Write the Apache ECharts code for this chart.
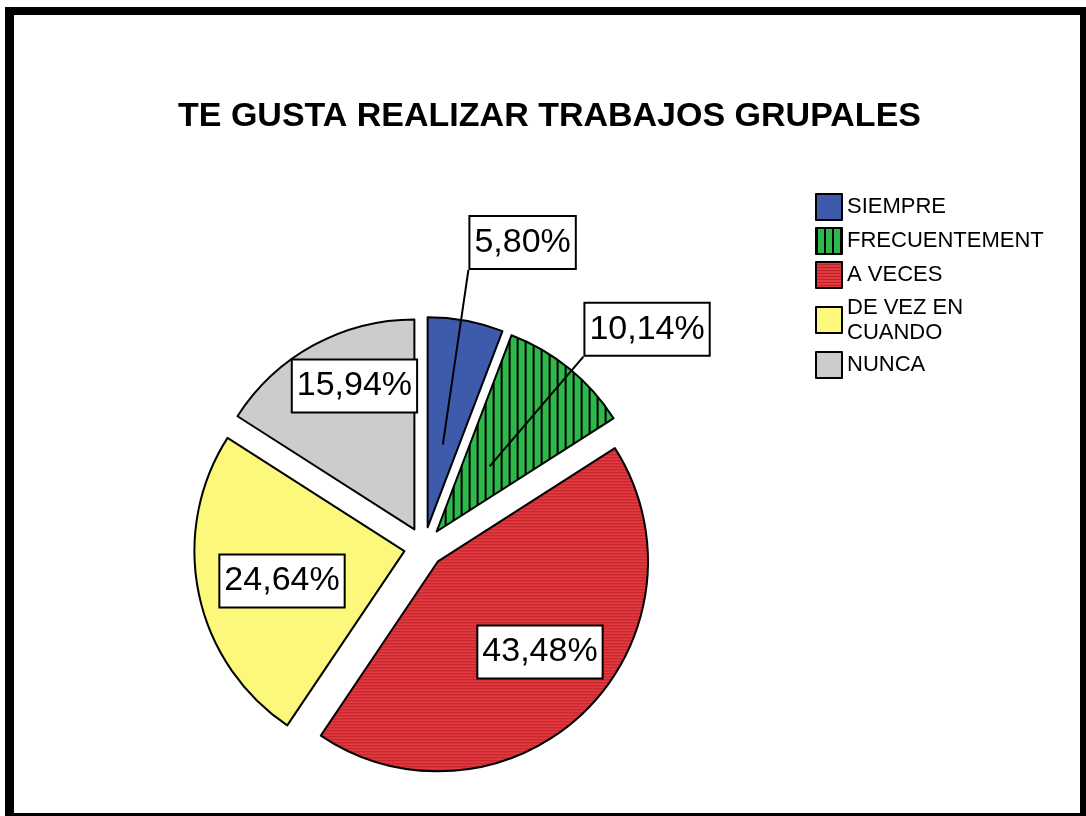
<!DOCTYPE html>
<html>
<head>
<meta charset="utf-8">
<script src="https://cdn.jsdelivr.net/npm/echarts@6/dist/echarts.min.js"></script>
<style>
html, body { margin: 0; padding: 0; background: #fff; }
#grafico { position: absolute; left: 0; top: 0; width: 1086px; height: 816px; }
.marco {
  position: absolute; left: 5px; top: 7px; width: 1081px; height: 809px;
  box-sizing: border-box; border-style: solid; border-color: #000;
  border-width: 8px 6px 3px 9px; pointer-events: none;
}
</style>
</head>
<body>
<div id="grafico"></div>
<div class="marco"></div>
<script>
// datos
var categorias = ["SIEMPRE", "FRECUENTEMENTE", "A VECES", "DE VEZ EN CUANDO", "NUNCA"];
var porcentajes = [5.80, 10.14, 43.48, 24.64, 15.94];

// tramas: verde con rayas verticales, rojo con rayas horizontales
function trama(ancho, alto, fondo, dibujar) {
  var c = document.createElement("canvas");
  c.width = ancho;
  c.height = alto;
  var ctx = c.getContext("2d");
  ctx.fillStyle = fondo;
  ctx.fillRect(0, 0, ancho, alto);
  dibujar(ctx);
  return { image: c, repeat: "repeat" };
}
var verde = trama(8, 8, "#2fb84a", function (ctx) {
  ctx.fillStyle = "#000";
  ctx.fillRect(0, 0, 2, 8);
});
var rojo = trama(4, 3, "#e5393f", function (ctx) {
  ctx.fillStyle = "#b9242b";
  ctx.fillRect(0, 2, 4, 1);
});
var colores = ["#3d5aab", verde, rojo, "#fbf87b", "#cccccc"];

var CX = 424, CY = 547, R = 210, OFF = 20;
var fuente = "'Liberation Sans', Arial, sans-serif";
// ubicacion de cada etiqueta: distancia (fraccion del radio) y giro (grados)
var distEtiqueta = [1.43, 1.39, 0.65, 0.6, 0.74];
var giroEtiqueta = [8, 7, -4, -2, 6];

var total = porcentajes.reduce(function (a, b) { return a + b; }, 0);
var acumulado = 0;
var medios = porcentajes.map(function (v) {
  var a0 = acumulado / total * 360;
  acumulado += v;
  return (a0 + acumulado / total * 360) / 2;
});

// punto respecto al centro (sin desplazamiento: la seleccion lo agrega)
function punto(i, dist, giro) {
  var g = (medios[i] + giro) * Math.PI / 180;
  return [CX + dist * Math.sin(g), CY - dist * Math.cos(g)];
}

var base = {
  type: "pie",
  center: [CX, CY],
  radius: R,
  startAngle: 90,
  clockwise: true,
  selectedMode: "multiple",
  selectedOffset: OFF,
  avoidLabelOverlap: false,
  emphasis: { disabled: true }
};

var myChart = echarts.init(document.getElementById("grafico"));
myChart.setOption({
  animation: false,
  title: {
    text: "TE GUSTA REALIZAR TRABAJOS GRUPALES",
    left: 173,
    top: 95,
    textStyle: { fontSize: 34, fontWeight: "bold", color: "#000", fontFamily: fuente }
  },
  legend: {
    orient: "vertical",
    left: 815,
    top: 193,
    padding: 0,
    itemWidth: 26,
    itemHeight: 26,
    itemGap: 6,
    icon: "rect",
    selectedMode: false,
    itemStyle: { borderColor: "#000", borderWidth: 2 },
    formatter: function (n) { return n.replace("DE VEZ EN ", "DE VEZ EN\n"); },
    textStyle: {
      fontSize: 22, lineHeight: 25, color: "#000", fontFamily: fuente,
      width: 207, overflow: "truncate", ellipsis: ""
    },
    data: categorias
  },
  series: [
    // porciones
    echarts.util.merge({
      z: 2,
      itemStyle: { borderColor: "#000", borderWidth: 2 },
      label: { show: false },
      labelLine: { show: false },
      data: categorias.map(function (c, i) {
        return { name: c, value: porcentajes[i], selected: true, itemStyle: { color: colores[i] } };
      })
    }, base),
    // etiquetas y lineas guia por encima de las porciones
    echarts.util.merge({
      z: 4,
      silent: true,
      itemStyle: { color: "rgba(0,0,0,0)", borderWidth: 0 },
      label: {
        show: true,
        position: "inside",
        formatter: function (p) { return p.value.toFixed(2).replace(".", ",") + "%"; },
        fontSize: 34,
        fontFamily: fuente,
        color: "#000",
        backgroundColor: "#fff",
        borderColor: "#000",
        borderWidth: 2,
        padding: [9, 4, 8, 4]
      },
      labelLine: { show: true, length: 20, length2: 0, lineStyle: { color: "#000", width: 2 } },
      labelLayout: function (p) {
        var i = p.dataIndex, r = p.labelRect;
        var c = punto(i, distEtiqueta[i] * R, giroEtiqueta[i]);
        var res = { dx: c[0] - (r.x + r.width / 2), dy: c[1] - (r.y + r.height / 2) };
        if (distEtiqueta[i] > 1) {
          res.labelLinePoints = [punto(i, 0.4 * R, 0), [c[0] - r.width / 2, c[1] + r.height / 2]];
        }
        return res;
      },
      data: categorias.map(function (c, i) {
        return {
          name: c,
          value: porcentajes[i],
          selected: true,
          label: { position: distEtiqueta[i] > 1 ? "outside" : "inside" }
        };
      })
    }, base)
  ]
});
</script>
</body>
</html>
